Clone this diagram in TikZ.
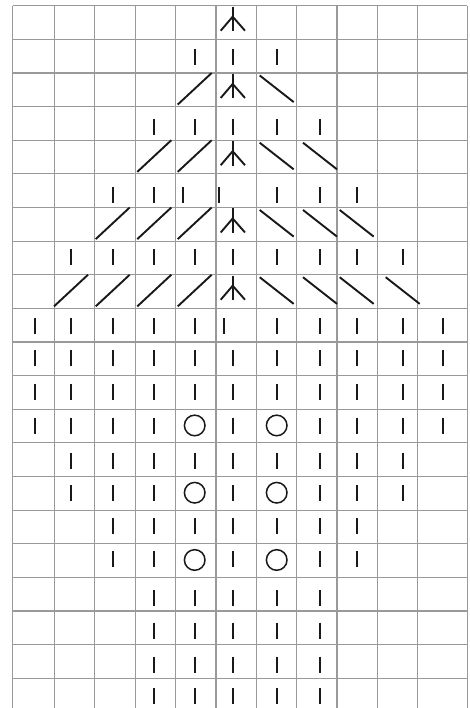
\documentclass[tikz,border=0pt]{standalone}
\begin{document}
\begin{tikzpicture}[x=1pt, y=-1pt,
        gridline/.style={draw=black!40, line width=1.1pt},
        stitch/.style={draw=black!90, line width=1.9pt},
        yarnover/.style={draw=black!90, line width=1.5pt}]
    \useasboundingbox (0,0) rectangle (470,708);
    \def\colx{{35.3,71,112.7,154.3,194.7,232.7,276.7,320,356.7,402.7,442.7}}
    \def\rowh{33.63}
    % GRID
    \foreach \x in {12.7,54.3,94.7,135.3,175.7,216,256.7,296.7,337,377.7,417.7,467.3} {
        \draw[gridline] (\x,5.7) -- (\x,708);
    }
    \foreach \r in {0,...,20} {
        \draw[gridline] (12.7,5.7+\r*\rowh) -- (467.3,5.7+\r*\rowh);
    }
    % KNIT STITCHES AND YARN OVERS (row/first/last/offset)
    \foreach \r/\a/\b/\o in {2/5/7/9.7, 4/4/8/12.3, 6/3/9/13.3, 8/2/10/8,
            10/1/11/10, 11/1/11/8, 12/1/11/8.3, 13/1/11/8.7, 14/2/10/9.7,
            15/2/10/8.6, 16/3/9/8, 17/3/9/7.4, 18/4/8/12.7, 19/4/8/11.7,
            20/4/8/12, 21/4/8/10} {
        \foreach \c in {\a,...,\b} {
            \pgfmathsetmacro\xc{\colx[\c-1]}
            \pgfmathsetmacro\yt{5.7+(\r-1)*\rowh}
            \ifnum\r=6
                \ifnum\c=5 \def\xc{182.7}\fi
                \ifnum\c=6 \def\xc{219}\fi
            \fi
            \ifnum\r=10
                \ifnum\c=6 \def\xc{224}\fi
            \fi
            \pgfmathtruncatemacro\hole{and(or(\r==13,or(\r==15,\r==17)),or(\c==5,\c==7))}
            \ifnum\hole=1
                \draw[yarnover] (\xc,\yt+16.2) circle[radius=10.3];
            \else
                \draw[stitch] (\xc,\yt+\o) -- ++(0,16);
            \fi
        }
    }
    % LEFT-LEANING DECREASES
    \foreach \r/\c in {3/5, 5/4, 5/5, 7/3, 7/4, 7/5, 9/2, 9/3, 9/4, 9/5} {
        \pgfmathsetmacro\xc{\colx[\c-1]}
        \pgfmathsetmacro\yt{5.7+(\r-1)*\rowh}
        \draw[stitch] (\xc-17,\yt+\rowh-2) -- (\xc+17,\yt);
    }
    % RIGHT-LEANING DECREASES
    \foreach \r/\c in {3/7, 5/7, 5/8, 7/7, 7/8, 7/9, 9/7, 9/8, 9/9, 9/10} {
        \pgfmathsetmacro\xc{\colx[\c-1]}
        \pgfmathsetmacro\yt{5.7+(\r-1)*\rowh}
        \draw[stitch] (\xc-17,\yt+2.5) -- (\xc+17,\yt+\rowh-4.5);
    }
    % CENTRAL DOUBLE DECREASES
    \foreach \r in {1,3,5,7,9} {
        \pgfmathsetmacro\yt{5.7+(\r-1)*\rowh}
        \draw[stitch] (232.7,\yt+1) -- (232.7,\yt+25.5);
        \draw[stitch] (220.7,\yt+25) -- (232.7,\yt+11) -- (245,\yt+25);
    }
\end{tikzpicture}
\end{document}
